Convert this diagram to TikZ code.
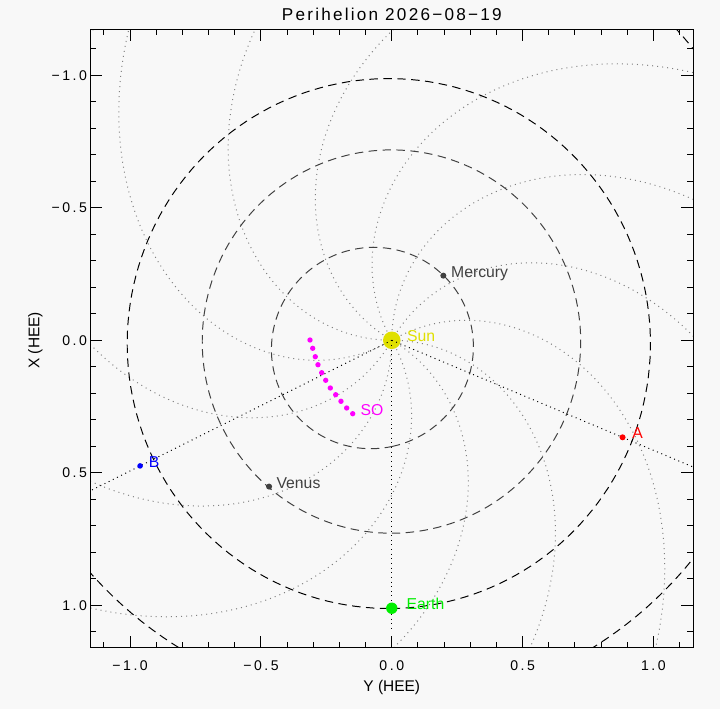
\documentclass[tikz,border=0pt]{standalone}
\usepackage{fontspec}
\setmainfont{Liberation Sans}
\usetikzlibrary{positioning}

\definecolor{bgpaper}{RGB}{248,248,248}
\definecolor{sunyel}{RGB}{224,224,0}
\definecolor{earthgrn}{RGB}{0,238,0}
\definecolor{planetgry}{RGB}{64,64,64}
\definecolor{spiralgry}{RGB}{128,128,128}
\definecolor{somag}{RGB}{255,0,255}
\definecolor{stred}{RGB}{255,0,0}
\definecolor{stblue}{RGB}{0,0,255}

\begin{document}
\begin{tikzpicture}[
    x={(6.54125cm,0)}, y={(0,-6.625cm)},
    every node/.style={font=\fontsize{11.2}{12}\selectfont},
    frm/.style={line width=0.7pt},
    spiral/.style={spiralgry, line width=0.7pt, dash pattern=on 0.7pt off 2.9pt},
    orb/.style={line width=0.7pt, dash pattern=on 6pt off 3.9pt},
    radial/.style={line width=0.7pt, dash pattern=on 0.7pt off 2.6pt},
    body/.style={circle, fill, inner sep=0pt, minimum size=#1},
    body/.default=4.3pt,
    sodot/.style={body=3.8pt, fill=somag},
    lbl/.style={inner sep=0pt, yshift=-1.2pt},
    ticklbl/.style={inner sep=0pt, font=\fontsize{10}{10}\selectfont\addfontfeature{LetterSpace=18}},
    axlbl/.style={inner sep=0pt, font=\fontsize{11}{12}\selectfont},
    titl/.style={inner sep=0pt, font=\fontsize{12.2}{13}\selectfont\addfontfeature{LetterSpace=13}},
  ]
  \fill[bgpaper] (-1.4974,-1.2842) rectangle (1.2544,1.3913);
  \useasboundingbox (-1.4974,-1.2842) rectangle (1.2544,1.3913);

  \begin{scope}
    \clip (-1.152,-1.1736) rectangle (1.152,1.161);
    % Parker spirals
    \foreach \a in {0,30,...,330}
      \draw[spiral] plot[domain=0:1.75, samples=141, variable=\r]
        ({\r*cos(\a-51.4*\r)}, {-\r*sin(\a-51.4*\r)});
    % orbits: Mercury, Venus, Earth, Mars
    \draw[orb, planetgry] plot[domain=0:360, samples=181]
      ({0.37073/(1+0.20563*cos(\x-111.46))*sin(\x)}, {0.37073/(1+0.20563*cos(\x-111.46))*cos(\x)});
    \draw[orb, planetgry] plot[domain=0:360, samples=181]
      ({0.72330/(1+0.00677*cos(\x-165.53))*sin(\x)}, {0.72330/(1+0.00677*cos(\x-165.53))*cos(\x)});
    \draw[orb] plot[domain=0:360, samples=181]
      ({0.99972/(1+0.01671*cos(\x-136.94))*sin(\x)}, {0.99972/(1+0.01671*cos(\x-136.94))*cos(\x)});
    \draw[orb] plot[domain=0:360, samples=181]
      ({1.51039/(1+0.09340*cos(\x-10.04))*sin(\x)}, {1.51039/(1+0.09340*cos(\x-10.04))*cos(\x)});

    \node[body=12.5pt, fill=sunyel] (sun) at (0,0) {};
    \coordinate (earthend) at (0,1.10);
    \coordinate (aend) at (1.385,0.575);
    \coordinate (bend) at (-1.256,0.619);
    \draw[radial] (sun.center) -- (earthend);
    \draw[radial] (sun.center) -- (aend);
    \draw[radial] (sun.center) -- (bend);
  \end{scope}

  \node[body, fill=planetgry] (mercury) at (0.197,-0.244) {};
  \node[body, fill=planetgry] (venus) at (-0.469,0.552) {};
  \node[body=8.1pt, fill=earthgrn] (earth) at (0,1.011) {};
  \node[body, fill=stred] (stA) at (0.882,0.366) {};
  \node[body=4pt, fill=stblue] (stB) at (-0.962,0.474) {};
  \foreach \sy/\sx [count=\k] in {-0.3126/-0.0011, -0.3023/0.0302, -0.2924/0.0619,
      -0.2821/0.0921, -0.2679/0.1223, -0.2526/0.1509, -0.2350/0.1800,
      -0.2144/0.2053, -0.1942/0.2302, -0.1724/0.2555, -0.1494/0.2770}
    \node[sodot] (so\k) at (\sy,\sx) {};

  \node[lbl, sunyel, base right=4.3pt of sun] (sunlbl) {Sun};
  \node[lbl, planetgry, base right=3pt of mercury] (mercurylbl) {Mercury};
  \node[lbl, planetgry, base right=2.8pt of venus] (venuslbl) {Venus};
  \node[lbl, earthgrn, base right=6.1pt of earth] (earthlbl) {Earth};
  \node[lbl, stred, base right=4.5pt of stA] (stAlbl) {A};
  \node[lbl, stblue, base right=3.8pt of stB] (stBlbl) {B};
  \node[lbl, somag, base right=3.4pt of so11] (solbl) {SO};

  % frame and ticks
  \draw[frm] (-1.152,-1.1736) rectangle (1.152,1.161);
  \foreach \i in {-11,...,11}{
    \pgfmathtruncatemacro{\ismaj}{mod(abs(\i),5)==0}
    \ifnum\ismaj=1 \def\tk{0.3cm}\else\def\tk{0.15cm}\fi
    \draw[frm] (\i/10,-1.1736) -- ++(0cm,-\tk);
    \draw[frm] (\i/10,1.161) -- ++(0cm,\tk);
    \draw[frm] (-1.152,\i/10) -- ++(\tk,0cm);
    \draw[frm] (1.152,\i/10) -- ++(-\tk,0cm);
  }
  \foreach \v/\t [count=\k] in {-1/−1.0, -0.5/−0.5, 0/0.0, 0.5/0.5, 1/1.0}{
    \node[ticklbl, anchor=east] (lt\k) at ([xshift=-0.08cm]-1.152,\v) {\t};
    \node[ticklbl, anchor=north] (bt\k) at ([yshift=-0.32cm]\v,1.161) {\t};
  }

  \node[titl, anchor=base] (title) at (0,-1.206) {Perihelion 2026−08−19};
  \node[axlbl, anchor=base] (ylbl) at (0,1.326) {Y (HEE)};
  \node[axlbl, anchor=base, rotate=90] (xlbl) at (-1.3465,0) {X (HEE)};
\end{tikzpicture}
\end{document}
